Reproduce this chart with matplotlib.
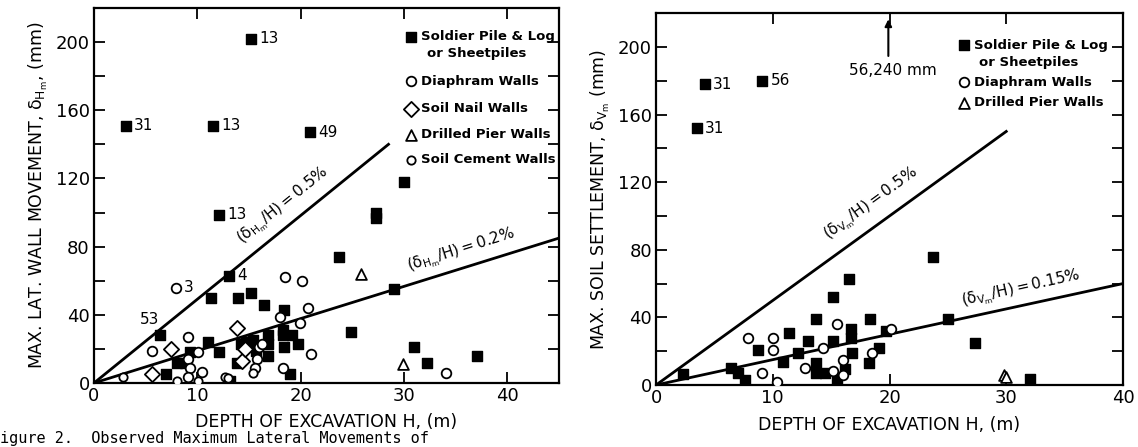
import matplotlib.pyplot as plt

plt.rcParams['font.family'] = ['DejaVu Sans']
plt.rcParams['mathtext.default'] = 'regular'

# ---- left plot: max lateral wall movement ----
sp_x = [15.2, 3.1, 11.5, 12.1, 20.9, 30.0, 27.3, 27.3, 6.4, 13.1, 11.3, 13.9, 15.2, 16.5, 18.4,
        11.0, 9.3, 12.1, 8.0, 8.8, 7.0, 13.2, 13.8, 14.2, 14.7, 15.2, 16.8, 16.8, 18.3, 18.4,
        19.0, 19.2, 23.7, 24.9, 29.0, 31.0, 32.2, 37.1, 18.3, 19.7, 16.8, 15.4, 15.7]
sp_y = [202, 151, 151, 98.6, 147, 118, 97, 100, 28, 63, 50, 50, 53, 46, 43,
        24, 18, 18, 12, 12, 5, 1, 12, 23, 24, 23, 28, 16, 31, 21,
        5, 28, 74, 30, 55, 21, 12, 16, 28, 23, 23, 25, 19]
dw_x = [7.9, 18.5, 20.1, 20.7, 19.9, 18.0, 21.0, 18.3, 34.1, 16.0, 15.8, 15.6, 5.6, 9.1,
        10.1, 9.1, 9.3, 10.5, 9.1, 16.3]
dw_y = [56, 62, 60, 44, 35, 39, 17, 9, 6, 21, 14, 9, 18.5, 27,
        18, 14, 9, 6.5, 3.5, 23]
sc_x = [2.8, 10.1, 8.0, 12.7, 13.0, 15.4]
sc_y = [3.5, 1.2, 1.2, 3.5, 3.0, 6.0]
sn_x = [5.6, 7.5, 13.8, 14.3, 14.6]
sn_y = [5, 20, 32, 13, 20]
dp_x = [25.8, 29.9]
dp_y = [64, 11]

# labelled points (x, y, label)
left_labels = [(15.2, 202, "13"), (3.1, 151, "31"), (11.5, 151, "13"), (12.1, 98.6, "13"),
               (20.9, 147, "49"), (13.1, 63, "4"), (7.9, 56, "3")]

# ---- right plot: max soil settlement ----
rsp_x = [4.2, 3.5, 9.1, 2.3, 6.4, 7.0, 7.6, 8.7, 11.4, 10.9, 12.2, 13.0, 13.7, 13.7, 13.7,
         14.5, 15.2, 15.2, 16.5, 16.7, 16.7, 16.8, 16.2, 15.5, 18.3, 18.2, 19.1, 23.7, 25.0,
         27.3, 32.0, 19.7]
rsp_y = [178, 152, 180, 6.5, 10, 7, 3, 20.6, 30.6, 13.5, 18.8, 26, 39, 13, 7,
         7, 52, 26, 63, 33, 28, 19, 9.5, 3.5, 39, 13, 21.7, 76, 39,
         25, 3.5, 32]
rdw_x = [7.9, 10.0, 10.0, 9.1, 10.4, 12.8, 14.3, 15.5, 15.2, 16.0, 16.0, 18.5, 20.1]
rdw_y = [28, 28, 21, 7, 1.5, 10, 22, 36, 8, 15, 6, 19, 33]
rdp_x = [29.8, 30.0]
rdp_y = [6, 5]
right_labels = [(4.2, 178, "31"), (3.5, 152, "31"), (9.1, 180, "56")]

# guide lines, end points
left_lines = [([0, 28.5], [0, 140]), ([0, 45], [0, 85])]
right_lines = [([0, 30], [0, 150]), ([0, 40], [0, 60])]

fig = plt.figure(figsize=(11.38, 4.47), dpi=100)
ax1 = fig.add_axes([0.0826, 0.1432, 0.4086, 0.839])
ax2 = fig.add_axes([0.5765, 0.1387, 0.4103, 0.832])

ms = 48
ck = dict(color='black')
opn = dict(facecolors='white', edgecolors='black', linewidths=1.3)


def style(ax, xmax, ymax):
    ax.set_xlim(0, xmax)
    ax.set_ylim(0, ymax)
    ax.set_xticks([0, 10, 20, 30, 40])
    ax.set_yticks(range(0, 201, 40))
    ax.set_yticks(range(20, 221, 40), minor=True)
    ax.tick_params(which='both', direction='in', length=8, width=1.3,
                   top=True, right=True, labelsize=13, pad=3)
    for s in ax.spines.values():
        s.set_linewidth(1.6)


for xs, ys in left_lines:
    ax1.plot(xs, ys, lw=2, **ck)
ax1.scatter(sp_x, sp_y, s=ms, marker='s', c='black', zorder=3)
ax1.scatter(dw_x, dw_y, s=ms, marker='o', zorder=3, **opn)
ax1.scatter(sc_x, sc_y, s=36, marker='o', zorder=3, **opn)
ax1.scatter(sn_x, sn_y, s=60, marker='D', zorder=3, **opn)
ax1.scatter(dp_x, dp_y, s=60, marker='^', zorder=3, **opn)
for x, y, t in left_labels:
    ax1.text(x + 0.8, y, t, fontsize=11, va='center', ha='left')
ax1.text(5.4, 37, "53", fontsize=11, va='center', ha='center')

ax1.text(18.3, 104, r"$(\delta_{H_m}/H) = 0.5\%$", rotation=39, fontsize=11,
         ha='center', va='center', rotation_mode='anchor')
ax1.text(35.5, 78, r"$(\delta_{H_m}/H) = 0.2\%$", rotation=17.5, fontsize=11,
         ha='center', va='center', rotation_mode='anchor')

# legend, left
lx = 30.7
ax1.scatter([lx], [203], s=ms, marker='s', c='black')
ax1.text(lx + 0.9, 203, "Soldier Pile & Log", fontsize=9.5, weight='bold', va='center')
ax1.text(lx + 1.5, 193, "or Sheetpiles", fontsize=9.5, weight='bold', va='center')
ax1.scatter([lx], [177], s=ms, marker='o', **opn)
ax1.text(lx + 0.9, 177, "Diaphram Walls", fontsize=9.5, weight='bold', va='center')
ax1.scatter([lx], [161], s=60, marker='D', **opn)
ax1.text(lx + 0.9, 161, "Soil Nail Walls", fontsize=9.5, weight='bold', va='center')
ax1.scatter([lx], [145.5], s=60, marker='^', **opn)
ax1.text(lx + 0.9, 145.5, "Drilled Pier Walls", fontsize=9.5, weight='bold', va='center')
ax1.scatter([lx], [131], s=36, marker='o', **opn)
ax1.text(lx + 0.9, 131, "Soil Cement Walls", fontsize=9.5, weight='bold', va='center')

style(ax1, 45, 217)
ax1.set_xlabel("DEPTH OF EXCAVATION H, (m)", fontsize=12.5, labelpad=6)
ax1.set_ylabel(r"MAX. LAT. WALL MOVEMENT, $\delta_{H_m}$, (mm)", fontsize=12.5, labelpad=4)

for xs, ys in right_lines:
    ax2.plot(xs, ys, lw=2, **ck)
ax2.scatter(rsp_x, rsp_y, s=ms, marker='s', c='black', zorder=3)
ax2.scatter(rdw_x, rdw_y, s=ms, marker='o', zorder=3, **opn)
ax2.scatter(rdp_x, rdp_y, s=60, marker='^', zorder=3, **opn)
for x, y, t in right_labels:
    ax2.text(x + 0.7, y, t, fontsize=11, va='center', ha='left')

ax2.annotate("", xy=(19.9, 218), xytext=(19.9, 193),
             arrowprops=dict(arrowstyle='-|>', color='black', lw=1.5))
ax2.text(16.5, 186, "56,240 mm", fontsize=11, va='center', ha='left')

ax2.text(18.4, 107, r"$(\delta_{V_m}/H) = 0.5\%$", rotation=36, fontsize=11,
         ha='center', va='center', rotation_mode='anchor')
ax2.text(31.3, 57, r"$(\delta_{V_m}/H) = 0.15\%$", rotation=12.6, fontsize=11,
         ha='center', va='center', rotation_mode='anchor')

rx = 26.4
ax2.scatter([rx], [201], s=ms, marker='s', c='black')
ax2.text(rx + 0.8, 201, "Soldier Pile & Log", fontsize=9.5, weight='bold', va='center')
ax2.text(rx + 1.3, 191, "or Sheetpiles", fontsize=9.5, weight='bold', va='center')
ax2.scatter([rx], [179], s=ms, marker='o', **opn)
ax2.text(rx + 0.8, 179, "Diaphram Walls", fontsize=9.5, weight='bold', va='center')
ax2.scatter([rx], [167], s=60, marker='^', **opn)
ax2.text(rx + 0.8, 167, "Drilled Pier Walls", fontsize=9.5, weight='bold', va='center')

style(ax2, 40, 220)
ax2.set_xlabel("DEPTH OF EXCAVATION H, (m)", fontsize=12.5, labelpad=6)
ax2.set_ylabel(r"MAX. SOIL SETTLEMENT, $\delta_{V_m}$ (mm)", fontsize=12.5, labelpad=4)

fig.text(0.0, 0.003, "igure 2.  Observed Maximum Lateral Movements of", family='DejaVu Sans Mono',
         fontsize=11, va='bottom', ha='left')

fig.savefig("out.png", dpi=100)
